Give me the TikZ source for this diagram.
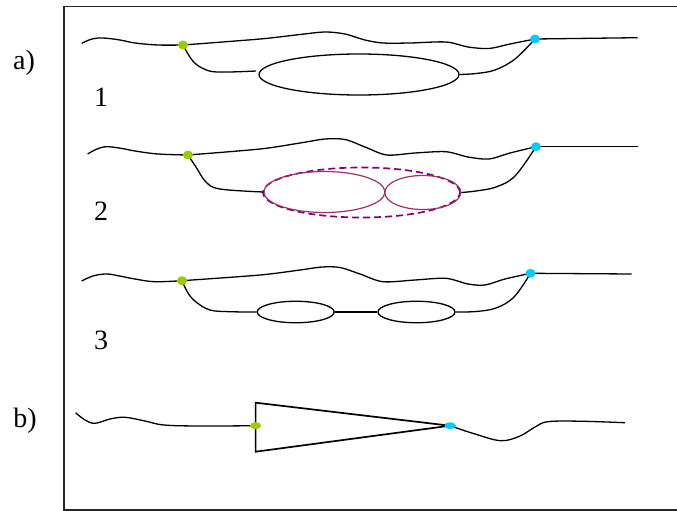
\documentclass[tikz,border=0pt]{standalone}
\usepackage{fontspec}
\setmainfont{Liberation Serif}
\usetikzlibrary{shapes.geometric}
\definecolor{dotgreen}{RGB}{153,204,0}
\definecolor{dotblue}{RGB}{0,204,255}
\definecolor{loop}{RGB}{153,51,102}
\definecolor{dashpurple}{RGB}{128,0,128}
\tikzset{
  wire/.style={line width=1.3pt, black},
  frame/.style={line width=1.6pt, black!85},
  gdot/.style={ellipse, fill=dotgreen, inner sep=0pt, minimum width=10pt, minimum height=9pt},
  bdot/.style={ellipse, fill=dotblue, inner sep=0pt, minimum width=10pt, minimum height=9pt},
  loopA/.style={ellipse, draw=black, line width=1.3pt, inner sep=0pt},
  loopB/.style={ellipse, draw=loop, line width=1.2pt, inner sep=0pt},
  dashloop/.style={ellipse, draw=dashpurple, line width=1.7pt, dash pattern=on 7pt off 4pt, inner sep=0pt},
  lbl/.style={font=\fontsize{28}{30}\selectfont, inner sep=0pt},
  tri/.style={line width=1.7pt, black, line join=miter}
}
\begin{document}
\begin{tikzpicture}[x=1pt,y=-1pt]
\useasboundingbox (0,0) rectangle (677,511);
% frame
\draw[frame] (677,6.5) -- (64,6.5) -- (64,510) -- (677,510);
% labels
\node[lbl] (la) at (24,63) {a)};
\node[lbl] (lb) at (25,421) {b)};
\node[lbl] (l1) at (101,97) {1};
\node[lbl] (l2) at (101,211) {2};
\node[lbl] (l3) at (101,340) {3};

% ---------- row 1 ----------
\coordinate (g1) at (183,45);
\coordinate (b1) at (535,39);
\coordinate (e1end) at (637.6,37.7);
\node[loopA, minimum width=200pt, minimum height=41pt] (e1) at (359,74.5) {};
\draw[wire] plot[smooth, tension=0.6] coordinates {(81.7,43.3) (92,39) (103,38) (120,40) (135,43) (158,45) (g1)};
\draw[wire] plot[smooth, tension=0.5] coordinates {(g1) (260,39) (300,34.5) (325,32) (345,34) (365,40) (383,43) (410,43) (446,42) (468,47) (489,48.5) (510,44) (b1)};
\draw[wire] (b1) -- (e1end);
\draw[wire] plot[smooth, tension=0.6] coordinates {(g1) (192,60) (202,68) (217,72) (256,71)};
\draw[wire] plot[smooth, tension=0.6] coordinates {(e1.east) (476,73.5) (495,70) (515,59) (b1)};

% ---------- row 2 ----------
\coordinate (g2) at (188,155);
\coordinate (b2) at (536,146.7);
\coordinate (e2end) at (637.6,146.7);
\node[dashloop, minimum width=197pt, minimum height=50pt] (d2) at (361.5,192.5) {};
\node[loopB, minimum width=121pt, minimum height=41pt] (e2a) at (324.4,192) {};
\node[loopB, minimum width=76pt, minimum height=34pt] (e2b) at (422.8,192.5) {};
\draw[wire] plot[smooth, tension=0.6] coordinates {(87.6,154) (97,149) (107,146.7) (122,148.5) (135,151) (158,154) (g2)};
\draw[wire] plot[smooth, tension=0.5] coordinates {(g2) (260,149) (300,143) (325,139) (345,139.5) (365,147) (386.8,155) (415,153) (445.8,151.7) (468,157) (489,159) (510,153) (b2)};
\draw[wire] (b2) -- (e2end);
\draw[wire] plot[smooth, tension=0.6] coordinates {(g2) (196,167) (206,182) (220,189) (e2a.west)};
\draw[wire] plot[smooth, tension=0.6] coordinates {(e2b.east) (476,191) (496,187) (515,176) (b2)};

% ---------- row 3 ----------
\coordinate (g3) at (182,280.7);
\coordinate (b3) at (530.5,273.3);
\coordinate (e3end) at (631.7,274);
\node[loopA, minimum width=77pt, minimum height=21.5pt] (e3a) at (295.7,312) {};
\node[loopA, minimum width=77pt, minimum height=21.5pt] (e3b) at (416.5,312) {};
\draw[wire] plot[smooth, tension=0.6] coordinates {(81.7,281) (93,276) (107,274) (122,276.5) (135,279) (154.5,281.7) (g3)};
\draw[wire] plot[smooth, tension=0.5] coordinates {(g3) (260,275) (300,270) (322,267) (340,267.5) (360,274) (382.8,281.7) (415,280) (445.8,278.3) (468,284) (485,285) (505,279) (b3)};
\draw[wire] (b3) -- (e3end);
\draw[wire] plot[smooth, tension=0.6] coordinates {(g3) (188,293) (196,302) (210,310) (230,311.7) (e3a.west)};
\draw[wire] (e3a.east) -- (e3b.west);
\draw[wire] plot[smooth, tension=0.6] coordinates {(e3b.east) (476,311.5) (496,308) (514,297) (b3)};

% ---------- b) ----------
\coordinate (gb) at (255.6,425.7);
\coordinate (bb) at (450,425.7);
\coordinate (t1) at (255.6,402.7);
\coordinate (t2) at (255.6,451.7);
\draw[wire] plot[smooth, tension=0.6] coordinates {(75.6,412.7) (85,420) (95,423.3) (110,419) (125,417.3) (145,421) (164,425) (200,426) (gb)};
\draw[tri] (t1) -- (bb) -- (t2) -- cycle;
\draw[wire] plot[smooth, tension=0.6] coordinates {(bb) (475,434) (500.9,440.7) (520,436) (535,427) (548,421.7) (580,421.2) (624.8,422.7)};

% dots
\node[gdot] (G1) at (g1) {};
\node[bdot] (B1) at (b1) {};
\node[gdot] (G2) at (g2) {};
\node[bdot] (B2) at (b2) {};
\node[gdot] (G3) at (g3) {};
\node[bdot] (B3) at (b3) {};
\node[gdot, minimum width=11pt, minimum height=7pt] (GB) at (gb) {};
\node[bdot, minimum width=11pt, minimum height=7pt] (BB) at (bb) {};
\end{tikzpicture}
\end{document}
